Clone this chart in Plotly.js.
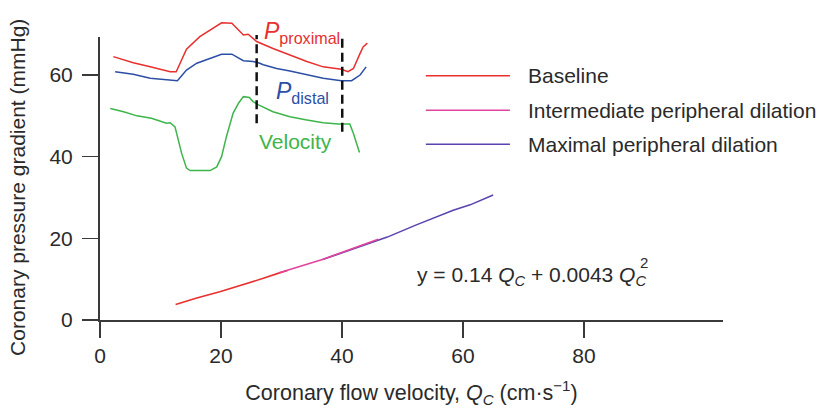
<!DOCTYPE html>
<html>
<head>
<meta charset="utf-8">
<script src="https://cdn.plot.ly/plotly-3.0.1.min.js"></script>
<style>html,body{margin:0;padding:0;background:#fff;}#chart{width:822px;height:408px;}</style>
</head>
<body>
<div id="chart"></div>
<script>
// Main relation: pressure gradient vs coronary flow velocity
const baselineQ = [12.5, 16.0, 19.8, 23.5, 27.0, 29.8, 31.0];
const baselineP = [3.8, 5.4, 6.9, 8.5, 10.2, 11.6, 12.1];
const intermediateQ = [29.5, 32.0, 34.7, 36.9, 39.5, 42.5, 46.0];
const intermediateP = [11.5, 12.6, 13.9, 14.9, 16.3, 18.0, 19.8];
const maximalQ = [36.8, 40.0, 43.0, 47.5, 52.3, 55.5, 58.4, 61.2, 65.0];
const maximalP = [14.8, 16.4, 17.9, 20.3, 23.3, 25.1, 26.9, 28.2, 30.6];

// Inset illustration (schematic waveforms)
const proxT = [2.2, 5.5, 8.3, 11.6, 12.6, 13.2, 14.3, 16.5, 19.3, 20.1, 21.8, 22.9, 23.7, 24.5, 25.9, 28.6, 31.4, 34.2, 36.9, 39.9, 41.0, 41.9, 43.0, 43.5, 44.2];
const proxP = [64.5, 63.0, 62.0, 60.8, 60.8, 62.9, 66.3, 69.4, 72.2, 72.8, 72.7, 71.0, 69.8, 70.0, 68.2, 66.5, 64.9, 63.3, 62.0, 61.4, 60.8, 61.6, 65.3, 66.9, 67.8];
const distT = [2.5, 5.5, 8.3, 11.0, 12.8, 13.5, 14.3, 16.0, 17.6, 18.7, 20.1, 21.8, 22.6, 23.7, 25.3, 26.2, 27.0, 29.2, 31.4, 34.2, 36.9, 39.9, 41.6, 43.0, 44.0];
const distP = [60.8, 60.2, 59.2, 58.8, 58.6, 59.8, 61.2, 62.9, 63.8, 64.5, 65.1, 65.1, 64.5, 63.5, 63.3, 63.0, 62.5, 61.6, 61.0, 60.0, 59.2, 58.6, 58.6, 60.0, 62.0];
const velT = [1.7, 3.9, 6.1, 8.5, 11.0, 11.6, 12.4, 12.9, 13.5, 14.3, 14.9, 18.2, 19.3, 20.1, 20.9, 22.0, 22.9, 23.7, 24.7, 25.3, 26.2, 28.6, 31.4, 34.2, 36.9, 39.4, 41.3, 41.9, 42.4, 42.9];
const velV = [51.8, 51.0, 50.0, 49.4, 48.2, 48.3, 47.3, 44.1, 40.8, 37.2, 36.6, 36.6, 37.5, 40.0, 44.9, 50.6, 53.1, 54.7, 54.5, 53.5, 52.7, 51.0, 49.8, 49.0, 48.3, 48.0, 48.0, 45.7, 43.3, 41.0];

const xTicks = [0, 20, 40, 60, 80];
const yTicks = [0, 20, 40, 60];
const legendNames = ['Baseline', 'Intermediate peripheral dilation', 'Maximal peripheral dilation'];

const RED = '#e8302e', PINK = '#e0449c', PURPLE = '#5b43b0';
const BLUE = '#2c4ea6', GREEN = '#3db54b', INK = '#2a2a2a';
const FONT = 'Liberation Sans, Arial, Helvetica, sans-serif';

const traces = [
  {x: baselineQ, y: baselineP, name: legendNames[0], mode: 'lines', line: {color: RED, width: 1.6}, xaxis: 'x', yaxis: 'y'},
  {x: maximalQ, y: maximalP, name: legendNames[2], mode: 'lines', line: {color: PURPLE, width: 1.6}, xaxis: 'x', yaxis: 'y'},
  {x: intermediateQ, y: intermediateP, name: legendNames[1], mode: 'lines', line: {color: PINK, width: 1.6}, xaxis: 'x', yaxis: 'y'},
  {x: proxT, y: proxP, name: 'P proximal', mode: 'lines', line: {color: RED, width: 1.5}, xaxis: 'x2', yaxis: 'y2'},
  {x: distT, y: distP, name: 'P distal', mode: 'lines', line: {color: BLUE, width: 1.5}, xaxis: 'x2', yaxis: 'y2'},
  {x: velT, y: velV, name: 'Velocity', mode: 'lines', line: {color: GREEN, width: 1.5}, xaxis: 'x2', yaxis: 'y2'}
];

const legendColors = [RED, PINK, PURPLE];
const legendY = [0.801, 0.6875, 0.576];
const shapes = [];
const annotations = [];
legendNames.forEach((n, i) => {
  shapes.push({type: 'line', xref: 'paper', yref: 'paper', x0: 0.523, x1: 0.658, y0: legendY[i], y1: legendY[i], line: {color: legendColors[i], width: 1.6}});
  annotations.push({xref: 'paper', yref: 'paper', x: 0.683, y: legendY[i], xanchor: 'left', yanchor: 'middle', text: n, showarrow: false, font: {family: FONT, size: 21, color: INK}});
});
// dashed markers on the inset
shapes.push({type: 'line', xref: 'x2', yref: 'y2', x0: 25.9, x1: 25.9, y0: 48.2, y1: 69.8, line: {color: '#111', width: 2.5, dash: '9px,5px'}});
shapes.push({type: 'line', xref: 'x2', yref: 'y2', x0: 40.05, x1: 40.05, y0: 46.1, y1: 69.4, line: {color: '#111', width: 2.5, dash: '9px,5px'}});

annotations.push({xref: 'x2', yref: 'y2', x: 33.4, y: 70.3, text: '<i>P</i><sub>proximal</sub>', showarrow: false, font: {family: FONT, size: 23, color: RED}});
annotations.push({xref: 'x2', yref: 'y2', x: 33.4, y: 55.8, text: '<i>P</i><sub>distal</sub>', showarrow: false, font: {family: FONT, size: 23, color: BLUE}});
annotations.push({xref: 'x2', yref: 'y2', x: 32.4, y: 43.6, text: 'Velocity', showarrow: false, font: {family: FONT, size: 21, color: GREEN}});
annotations.push({xref: 'paper', yref: 'paper', x: 0.5056, y: 0.144, xanchor: 'left', yanchor: 'middle', text: 'y = 0.14 <i>Q</i><sub><i>C</i></sub> + 0.0043 <i>Q</i><sub><i>C</i></sub>', showarrow: false, font: {family: FONT, size: 21, color: INK}});
annotations.push({xref: 'paper', yref: 'paper', x: 0.873, y: 0.19, xanchor: 'center', yanchor: 'middle', text: '2', showarrow: false, font: {family: FONT, size: 15, color: INK}});
// y-axis title placed as rotated text
annotations.push({xref: 'paper', yref: 'paper', x: -0.1316, y: 0.433, xanchor: 'center', yanchor: 'middle', textangle: -90, text: 'Coronary pressure gradient (mmHg)', showarrow: false, font: {family: FONT, size: 21, color: INK}});

const axisCommon = {
  showline: true, linecolor: '#3a3a3a', linewidth: 2,
  ticks: 'outside', ticklen: 16, tickwidth: 1.6, tickcolor: '#3a3a3a',
  showgrid: false, zeroline: false, fixedrange: true,
  tickfont: {family: FONT, size: 21, color: INK}
};

const layout = {
  width: 822, height: 408,
  margin: {l: 100, r: 99, t: 15, b: 88},
  paper_bgcolor: '#fff', plot_bgcolor: 'rgba(0,0,0,0)',
  showlegend: false,
  font: {family: FONT, color: INK},
  xaxis: Object.assign({}, axisCommon, {
    range: [0, 103], tickvals: xTicks, ticktext: xTicks.map(String), anchor: 'y',
    title: {text: 'Coronary flow velocity, <i>Q</i><sub><i>C</i></sub> (cm·s<sup>−1</sup>)', font: {family: FONT, size: 21.5, color: INK}, standoff: 22}
  }),
  yaxis: Object.assign({}, axisCommon, {
    range: [0, 69.4], domain: [0, 0.929], tickvals: yTicks, ticktext: yTicks.map(String), anchor: 'x',
    ticklabelstandoff: 5
  }),
  xaxis2: {domain: [0, 1], range: [0, 103], anchor: 'y2', visible: false, fixedrange: true},
  yaxis2: {domain: [0, 1], range: [0, 74.7], anchor: 'x2', visible: false, fixedrange: true},
  shapes: shapes,
  annotations: annotations
};

Plotly.newPlot('chart', traces, layout, {displayModeBar: false, staticPlot: true});
</script>
</body>
</html>
